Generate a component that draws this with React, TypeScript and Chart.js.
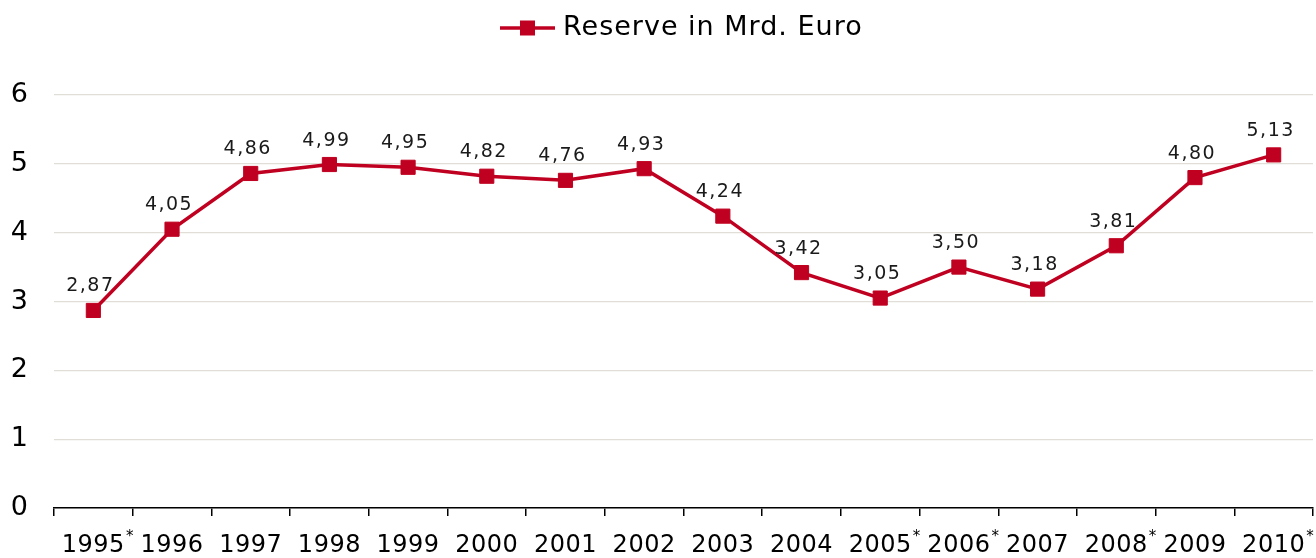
import React, { useEffect, useRef } from "react";
import { Chart, registerables } from "chart.js";

Chart.register(...registerables);

const years = ["1995", "1996", "1997", "1998", "1999", "2000", "2001", "2002", "2003", "2004", "2005", "2006", "2007", "2008", "2009", "2010"];
const starred = [true, false, false, false, false, false, false, false, false, false, true, true, false, true, false, true];
const reserve = [2.87, 4.05, 4.86, 4.99, 4.95, 4.82, 4.76, 4.93, 4.24, 3.42, 3.05, 3.5, 3.18, 3.81, 4.8, 5.13];
const valueLabels = ["2,87", "4,05", "4,86", "4,99", "4,95", "4,82", "4,76", "4,93", "4,24", "3,42", "3,05", "3,50", "3,18", "3,81", "4,80", "5,13"];
const seriesName = "Reserve in Mrd. Euro";

const RED = "#c00020";
const FONT = "'DejaVu Sans', Verdana, sans-serif";

const overlayPlugin = {
  id: "overlay",
  afterDatasetsDraw(chart: any) {
    const ctx = chart.ctx;
    const meta = chart.getDatasetMeta(0);
    ctx.save();
    ctx.fillStyle = "#1a1a1a";
    ctx.font = `19px ${FONT}`;
    (ctx as any).letterSpacing = "1.5px";
    ctx.textAlign = "center";
    ctx.textBaseline = "alphabetic";
    meta.data.forEach((pt: any, i: number) => {
      ctx.fillText(valueLabels[i], pt.x - 3, pt.y - 19);
    });
    ctx.restore();
  },
  afterDraw(chart: any) {
    const ctx = chart.ctx;
    const xs = chart.scales.x;
    ctx.save();
    // x labels
    ctx.fillStyle = "#000";
    ctx.textBaseline = "middle";
    years.forEach((y, i) => {
      const x = xs.getPixelForValue(i);
      ctx.font = `24px ${FONT}`;
      (ctx as any).letterSpacing = "0.5px";
      ctx.textAlign = "center";
      ctx.fillText(y, x, 546);
      if (starred[i]) {
        const w = ctx.measureText(y).width;
        (ctx as any).letterSpacing = "0px";
        ctx.font = `15px ${FONT}`;
        ctx.textAlign = "left";
        ctx.fillText("*", x + w / 2 + 1, 537);
      }
    });
    // legend
    const ly = 28;
    ctx.strokeStyle = RED;
    ctx.lineWidth = 3.5;
    ctx.beginPath();
    ctx.moveTo(500, ly);
    ctx.lineTo(555, ly);
    ctx.stroke();
    ctx.fillStyle = RED;
    ctx.fillRect(520, ly - 7.5, 15, 15);
    ctx.fillStyle = "#000";
    ctx.font = `27px ${FONT}`;
    (ctx as any).letterSpacing = "1px";
    ctx.textAlign = "left";
    ctx.textBaseline = "middle";
    ctx.fillText(seriesName, 563, ly);
    ctx.restore();
  },
};

export default function App() {
  const ref = useRef<HTMLCanvasElement>(null);
  useEffect(() => {
    if (!ref.current) return;
    const chart = new Chart(ref.current, {
      type: "line",
      data: {
        labels: years,
        datasets: [
          {
            label: seriesName,
            data: reserve,
            borderColor: RED,
            backgroundColor: RED,
            borderWidth: 3.5,
            pointStyle: "rect",
            pointRadius: 10,
            pointBorderWidth: 1,
            pointBackgroundColor: RED,
            pointBorderColor: RED,
            tension: 0,
          },
        ],
      },
      options: {
        responsive: false,
        animation: false,
        layout: { autoPadding: false, padding: { top: 95, right: 3, left: 0, bottom: 0 } },
        plugins: { legend: { display: false }, tooltip: { enabled: false } },
        scales: {
          x: {
            offset: true,
            grid: { offset: true, drawOnChartArea: false, drawTicks: true, tickLength: 8, color: "#000", lineWidth: 1.5 },
            border: { display: true, color: "#000", width: 1.5 },
            ticks: { display: false },
            afterFit: (s: any) => { s.height = 50; },
          },
          y: {
            min: 0,
            max: 6,
            ticks: { stepSize: 1, color: "#000", font: { size: 27, family: FONT }, padding: 26 },
            grid: { color: "#e0ded6", lineWidth: 1.2, drawTicks: false },
            border: { display: false },
            afterFit: (s: any) => { s.width = 54; },
          },
        },
      },
      plugins: [overlayPlugin],
    });
    return () => chart.destroy();
  }, []);
  return (
    <div style={{ position: "fixed", left: 0, top: 0, width: 1316, height: 558, background: "#fff" }}>
      <canvas ref={ref} width={1316} height={558} />
    </div>
  );
}
